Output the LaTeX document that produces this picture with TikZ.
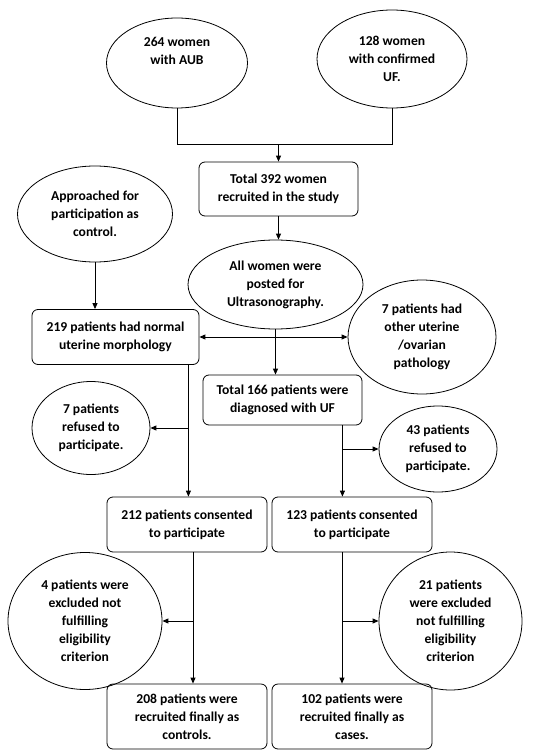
\documentclass[tikz,border=0pt]{standalone}
\usepackage{fontspec}
\setmainfont{Carlito}
\usetikzlibrary{shapes.geometric,arrows.meta,positioning,calc}

\tikzset{
  oval/.style={draw, ellipse, inner sep=0pt, align=center, line width=0.8pt,
    font=\bfseries\fontsize{13.6}{18}\selectfont},
  stage/.style={draw, rectangle, rounded corners=6pt, inner sep=0pt, align=center, line width=0.8pt,
    font=\bfseries\fontsize{13.6}{18}\selectfont},
  link/.style={line width=0.9pt},
  flow/.style={link, -{Triangle[length=6pt,width=5pt]}},
  flowboth/.style={link, {Triangle[length=6pt,width=5pt]}-{Triangle[length=6pt,width=5pt]}},
}

\begin{document}
\begin{tikzpicture}[x=1pt,y=-1pt]
  \useasboundingbox (0,0) rectangle (552,751);

  % sources
  \node[oval, minimum width=141pt, minimum height=90pt] (aub) at (177,63) {264 women\\with AUB\\[6pt]};
  \node[oval, minimum width=150pt, minimum height=98pt] (ufw) at (392,59) {128 women\\with confirmed\\UF.};
  \node[stage, minimum width=159pt, minimum height=54pt] (total) at (278.5,189) {Total 392 women\\recruited in the study};
  \node[oval, minimum width=155pt, minimum height=96pt] (appr) at (95,214) {Approached for\\participation as\\control.};
  \node[oval, minimum width=175pt, minimum height=89pt] (allw) at (275.5,284.5) {All women were\\posted for\\Ultrasonography.};

  % ultrasonography
  \node[stage, minimum width=167pt, minimum height=55pt] (norm) at (115.5,337) {219 patients had normal\\uterine morphology};
  \node[oval, minimum width=148pt, minimum height=114pt] (other) at (422,337) {7 patients had\\other uterine\\/ovarian\\pathology};
  \node[stage, minimum width=159pt, minimum height=50pt] (uf166) at (282.5,400) {Total 166 patients were\\diagnosed with UF};
  \node[oval, minimum width=118pt, minimum height=93pt] (ref7) at (91,428) {7 patients\\refused to\\participate.};
  \node[oval, minimum width=118pt, minimum height=86pt] (ref43) at (438,449) {43 patients\\refused to\\participate.};

  % consent
  \node[stage, minimum width=160pt, minimum height=55pt] (con212) at (187,524.5) {212 patients consented\\to participate};
  \node[stage, minimum width=160pt, minimum height=55pt] (con123) at (352,524.5) {123 patients consented\\to participate};
  \node[oval, minimum width=154pt, minimum height=137pt] (exc4) at (85,621) {4 patients were\\excluded not\\fulfilling\\eligibility\\criterion};
  \node[oval, minimum width=143pt, minimum height=138pt] (exc21) at (450.5,621) {21 patients\\were excluded\\not fulfilling\\eligibility\\criterion};
  \node[stage, minimum width=160pt, minimum height=65pt] (fin208) at (187,716.5) {208 patients were\\recruited finally as\\controls.};
  \node[stage, minimum width=160pt, minimum height=65pt] (fin102) at (352,716.5) {102 patients were\\recruited finally as\\cases.};

  % connectors
  \draw[link] (aub.south) -- ++(0,36) coordinate (ja) -| (ufw.south);
  \draw[flow] (ja -| total.north) -- (total.north);
  \draw[flow] (total.south) -- (total.south |- allw.north);
  \draw[flow] (appr.south) -- (appr.south |- norm.north);
  \draw[flow] (allw.south) -- (allw.south |- uf166.north);
  \draw[flowboth] (norm.east) -- (norm.east -| other.west);

  \coordinate (na) at ($(norm.south east)+(-11,0)$);
  \draw[flow] (na) -- (na |- con212.north);
  \draw[flow] (na |- ref7.east) -- (ref7.east);
  \coordinate (nb) at ($(uf166.south east)+(-20,0)$);
  \draw[flow] (nb) -- (nb |- con123.north);
  \draw[flow] (nb |- ref43.west) -- (ref43.west);

  \coordinate (nc) at ($(con212.south)+(6,0)$);
  \draw[flow] (nc) -- (nc |- fin208.north);
  \draw[flow] (nc |- exc4.east) -- (exc4.east);
  \coordinate (nd) at ($(con123.south)+(-10,0)$);
  \draw[flow] (nd) -- (nd |- fin102.north);
  \draw[flow] (nd |- exc21.west) -- (exc21.west);
\end{tikzpicture}
\end{document}
